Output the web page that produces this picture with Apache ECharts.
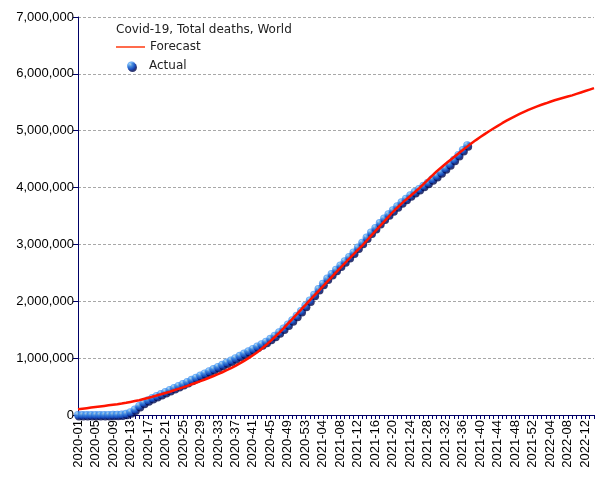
<!DOCTYPE html>
<html><head><meta charset="utf-8">
<script src="https://cdn.jsdelivr.net/npm/echarts@6/dist/echarts.min.js"></script>
<style>html,body{margin:0;padding:0;background:#fff}#c{width:605px;height:480px}</style>
</head><body><div id="c"></div>
<script>
// Week categories
const weeks2020 = ['01','02','03','04','05','06','07','08','09','10','11','12','13','14','15','16','17','18','19','20','21','22','23','24','25','26','27','28','29','30','31','32','33','34','35','36','37','38','39','40','41','42','43','44','45','46','47','48','49','50','51','52','53'];
const weeks2021 = ['01','02','03','04','05','06','07','08','09','10','11','12','13','14','15','16','17','18','19','20','21','22','23','24','25','26','27','28','29','30','31','32','33','34','35','36','37','38','39','40','41','42','43','44','45','46','47','48','49','50','51','52'];
const weeks2022 = ['01','02','03','04','05','06','07','08','09','10','11','12','13','14'];
const categories = [].concat(
  weeks2020.map(w => '2020-' + w),
  weeks2021.map(w => '2021-' + w),
  weeks2022.map(w => '2022-' + w)
);

// Actual total deaths (thousands), 2020-01 .. 2021-37
const actualK = [0,0,0,0,0,0,1,2,3,4,8,20,50,95,160,215,260,300,335,370,405,440,475,510,545,580,618,656,694,732,770,808,846,884,922,960,1000,1040,1080,1120,1162,1205,1245,1290,1340,1395,1455,1520,1590,1665,1745,1830,1920,2015,2115,2215,2310,2400,2480,2555,2630,2705,2780,2860,2945,3030,3120,3210,3290,3375,3455,3530,3600,3670,3740,3805,3865,3920,3975,4030,4085,4145,4205,4270,4340,4412,4490,4575,4660,4745];

// Forecast total deaths (thousands), 2020-01 .. 2022-14
const forecastK = [100,110,120,130,140,150,160,170,180,190,202,215,230,245,260,280,300,320,342,364,387,410,435,460,485,512,540,568,596,625,655,686,718,752,788,825,865,908,953,1000,1050,1105,1165,1230,1300,1372,1446,1525,1606,1688,1770,1852,1934,2016,2098,2180,2262,2344,2426,2507,2588,2668,2748,2826,2904,2980,3065,3150,3235,3318,3400,3485,3570,3645,3718,3787,3853,3918,3985,4060,4135,4210,4285,4350,4414,4476,4538,4600,4660,4720,4780,4835,4888,4940,4990,5038,5086,5132,5176,5218,5258,5296,5332,5366,5398,5428,5456,5482,5510,5535,5558,5580,5601,5622,5648,5673,5698,5723,5748];

const yTicks = [0,1000000,2000000,3000000,4000000,5000000,6000000,7000000];

const actual = actualK.map(v => v * 1000);
const forecast = forecastK.map(v => v * 1000);

const navy = '#000066';
const ballColor = {
  type: 'radial', x: 0.36, y: 0.32, r: 0.72,
  colorStops: [
    {offset: 0, color: '#c8ecff'},
    {offset: 0.3, color: '#4fa4f8'},
    {offset: 0.7, color: '#1c5fd8'},
    {offset: 1, color: '#0c2f9a'}
  ]
};
const legendText = {fontFamily: 'DejaVu Sans', fontSize: 12, color: '#222'};

const chart = echarts.init(document.getElementById('c'), null, {renderer: 'canvas'});
chart.setOption({
  animation: false,
  backgroundColor: '#ffffff',
  title: {
    text: 'Covid-19, Total deaths, World',
    left: 111, top: 19,
    textStyle: {fontFamily: 'DejaVu Sans', fontSize: 12, fontWeight: 'normal', color: '#222'}
  },
  legend: [
    {
      data: [{name: 'Forecast', icon: 'rect', itemStyle: {color: '#ff3a10'}}],
      left: 116, top: 41, padding: 0, itemWidth: 29, itemHeight: 1.5,
      textStyle: legendText
    },
    {
      data: [{name: 'Actual', icon: 'circle', itemStyle: {color: ballColor, shadowColor: '#000a50', shadowOffsetX: 1, shadowOffsetY: 1.5, shadowBlur: 0}}],
      left: 127, top: 60, padding: 0, itemWidth: 9, itemHeight: 9,
      textStyle: Object.assign({padding: [0, 0, 0, 8]}, legendText)
    }
  ],
  grid: {left: 78, right: 11, top: 17, bottom: 65, containLabel: false},
  xAxis: {
    type: 'category', data: categories, boundaryGap: false,
    axisLine: {lineStyle: {color: navy, width: 1}},
    axisTick: {show: true, interval: 0, length: 4, lineStyle: {color: navy}},
    axisLabel: {interval: 3, rotate: 90, fontFamily: 'Liberation Sans', fontSize: 13, color: '#000', margin: 5},
    splitLine: {show: false}
  },
  yAxis: {
    type: 'value', min: 0, max: 7000000, interval: 1000000,
    axisLine: {show: true, lineStyle: {color: navy, width: 1}},
    axisTick: {show: true, length: 5, lineStyle: {color: navy}},
    axisLabel: {fontFamily: 'Liberation Sans', fontSize: 13, color: '#000', margin: 4,
      formatter: v => v.toLocaleString('en-US')},
    splitLine: {show: true, lineStyle: {color: '#a8a8a8', type: [3, 2], width: 1}}
  },
  series: [
    {
      name: 'Actual', type: 'scatter', data: actual, symbol: 'circle', symbolSize: 8,
      itemStyle: {color: ballColor, shadowColor: '#000a50', shadowOffsetX: 1, shadowOffsetY: 1.5, shadowBlur: 0},
      z: 2
    },
    {
      name: 'Forecast', type: 'line', data: forecast, symbol: 'none', showSymbol: false,
      lineStyle: {color: '#ff1400', width: 2.5}, itemStyle: {color: '#ff1400'}, z: 3
    }
  ]
});
</script></body></html>
